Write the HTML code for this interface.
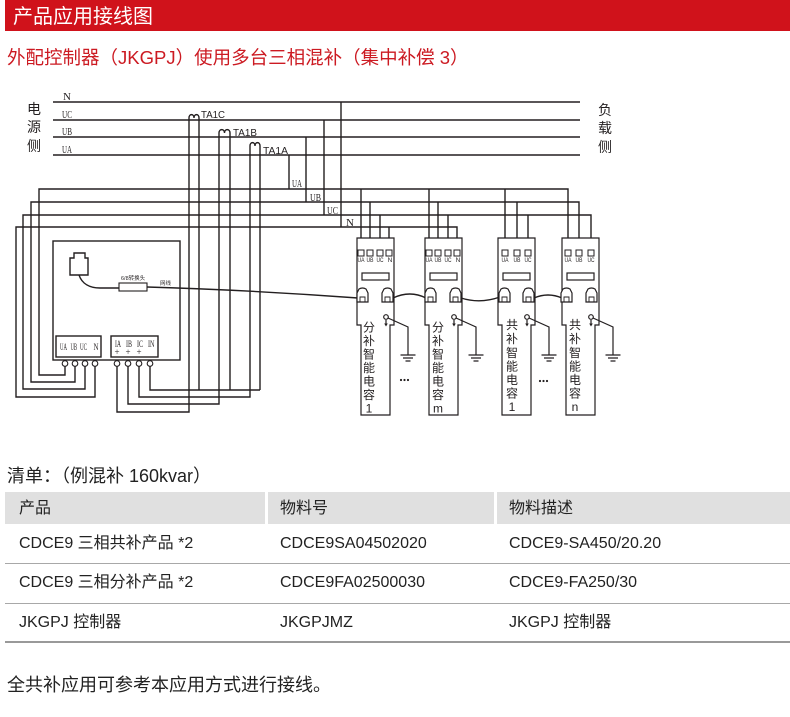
<!DOCTYPE html>
<html><head><meta charset="utf-8">
<style>
html,body{margin:0;padding:0;background:#fff;}
body{width:790px;height:717px;position:relative;overflow:hidden;font-family:"Liberation Sans","Noto Sans CJK SC",sans-serif;color:#222;}
.a{position:absolute;white-space:nowrap;line-height:1;}
.bg{position:absolute;background:#e0e0e0;}
.ln{position:absolute;left:5px;width:785px;background:#a8a8a8;}
</style></head><body>
<div style="position:absolute;left:5px;top:0;width:785px;height:31px;background:#d0121b"></div>
<div class="a" style="left:13px;top:7px;font-size:20px;color:#fff">产品应用接线图</div>
<div class="a" style="left:7px;top:49px;font-size:18.5px;color:#cc1a22">外配控制器（JKGPJ）使用多台三相混补（集中补偿 3）</div>

<svg width="790" height="717" viewBox="0 0 790 717" style="position:absolute;left:0;top:0">
<g stroke="#231f20" stroke-width="1.4" fill="none">
<path d="M53,102H580M53,120H580M53,137H580M53,155H580"/>
<path d="M289,155V189M306,137V202M324,120V215M341,102V227"/>
<path d="M65,366V375H39V189H568V251"/>
<path d="M75,366V382H31V202H579V251"/>
<path d="M85,366V389H23V215H591V251"/>
<path d="M95,366V397H16V227H457V251"/>
<path d="M361,189V251M370,202V251M380,215V251M389,227V251M429,189V251M438,202V251M448,215V251M505,189V251M517,202V251M528,215V251"/>
<path d="M117,366V412H189V118C189,113.5 194,113.5 194,118C194,113.5 199,113.5 199,118V390"/>
<path d="M128,366V404H219V133C219,128.5 224.5,128.5 224.5,133C224.5,128.5 230,128.5 230,133V390"/>
<path d="M139,366V397H250V146C250,141.5 255,141.5 255,146C255,141.5 260,141.5 260,146V390"/>
<path d="M150,366V390H260"/>
<rect x="53" y="241" width="127" height="119"/>
<rect x="56" y="336" width="45" height="21"/>
<rect x="111" y="336" width="47" height="21"/>
<path d="M70,275V258H74V253H85V258H88V275Z"/>
<path d="M79,275C82,284 90,288 100,288L119,288"/>
<path d="M147,287Q250,290 358,298"/>
<path d="M393,298Q410,290 426,298M461,298Q480,304 500,297M534,298Q548,292 562,298"/>
</g>
<g stroke="#231f20" stroke-width="1.1" fill="#fff">
<rect x="119" y="283" width="28" height="8"/>
<circle cx="65" cy="363.5" r="2.8"/><circle cx="75" cy="363.5" r="2.8"/><circle cx="85" cy="363.5" r="2.8"/><circle cx="95" cy="363.5" r="2.8"/>
<circle cx="117" cy="363.5" r="2.8"/><circle cx="128" cy="363.5" r="2.8"/><circle cx="139" cy="363.5" r="2.8"/><circle cx="150" cy="363.5" r="2.8"/>
</g>

<g stroke="#231f20" stroke-width="1.2" fill="#fff">
<path d="M357,238H394V325H390V415H361V325H357Z"/>
<path d="M425,238H462V325H458V415H429V325H425Z"/>
<path d="M498,238H535V325H531V415H502V325H498Z"/>
<path d="M562,238H599V325H595V415H566V325H562Z"/>
<rect x="362" y="273" width="27" height="7"/><rect x="430" y="273" width="27" height="7"/><rect x="503" y="273" width="27" height="7"/><rect x="567" y="273" width="27" height="7"/>
<g stroke-width="1">
<rect x="358" y="250" width="6" height="6"/><rect x="367" y="250" width="6" height="6"/><rect x="377" y="250" width="6" height="6"/><rect x="386" y="250" width="6" height="6"/>
<rect x="426" y="250" width="6" height="6"/><rect x="435" y="250" width="6" height="6"/><rect x="445" y="250" width="6" height="6"/><rect x="454" y="250" width="6" height="6"/>
<rect x="502" y="250" width="6" height="6"/><rect x="514" y="250" width="6" height="6"/><rect x="525" y="250" width="6" height="6"/>
<rect x="565" y="250" width="6" height="6"/><rect x="576" y="250" width="6" height="6"/><rect x="588" y="250" width="6" height="6"/>
</g>
<path d="M357,302V293L359,289Q362.5,287 366,289L368,293V302Z"/><path d="M382,302V293L384,289Q387.5,287 391,289L393,293V302Z"/>
<path d="M425,302V293L427,289Q430.5,287 434,289L436,293V302Z"/><path d="M450,302V293L452,289Q455.5,287 459,289L461,293V302Z"/>
<path d="M499,302V293L501,289Q504.5,287 508,289L510,293V302Z"/><path d="M523,302V293L525,289Q528.5,287 532,289L534,293V302Z"/>
<path d="M561,302V293L563,289Q566.5,287 570,289L572,293V302Z"/><path d="M586,302V293L588,289Q591.5,287 595,289L597,293V302Z"/>
</g>
<g stroke="#231f20" stroke-width="0.9" fill="none">
<path d="M360,302V297H365V302M385,302V297H390V302M428,302V297H433V302M453,302V297H458V302M502,302V297H507V302M526,302V297H531V302M564,302V297H569V302M589,302V297H594V302"/>
</g>
<g stroke="#231f20" stroke-width="1.2" fill="none">
<circle cx="386" cy="317" r="2.3" fill="#fff"/><path d="M388,318L408,327V355M400.5,355H415.5M403,358H413M405.5,361H410.5M386,320V325"/>
<circle cx="454" cy="317" r="2.3" fill="#fff"/><path d="M456,318L476,327V355M468.5,355H483.5M471,358H481M473.5,361H478.5M454,320V325"/>
<circle cx="527" cy="317" r="2.3" fill="#fff"/><path d="M529,318L549,327V355M541.5,355H556.5M544,358H554M546.5,361H551.5M527,320V325"/>
<circle cx="591" cy="317" r="2.3" fill="#fff"/><path d="M593,318L613,327V355M605.5,355H620.5M608,358H618M610.5,361H615.5M591,320V325"/>
</g>
<g fill="#231f20">
<path d="M384.2,323.5L386,326.5L387.8,323.5Z"/><path d="M452.2,323.5L454,326.5L455.8,323.5Z"/><path d="M525.2,323.5L527,326.5L528.8,323.5Z"/><path d="M589.2,323.5L591,326.5L592.8,323.5Z"/>
<circle cx="401" cy="380" r="1.1"/><circle cx="404.5" cy="380" r="1.1"/><circle cx="408" cy="380" r="1.1"/>
<circle cx="540" cy="381" r="1.1"/><circle cx="543.5" cy="381" r="1.1"/><circle cx="547" cy="381" r="1.1"/>
</g>

<g fill="#231f20" font-family="Liberation Sans, Noto Sans CJK SC, sans-serif">
<g font-size="14" text-anchor="middle">
<text x="34" y="114">电</text><text x="34" y="132">源</text><text x="34" y="151">侧</text>
<text x="605" y="115">负</text><text x="605" y="133">载</text><text x="605" y="152">侧</text>
</g>
<g font-size="10.5">
<text x="201" y="118" textLength="24" lengthAdjust="spacingAndGlyphs">TA1C</text>
<text x="233" y="136" textLength="24" lengthAdjust="spacingAndGlyphs">TA1B</text>
<text x="263" y="154" textLength="25" lengthAdjust="spacingAndGlyphs">TA1A</text>
</g>
<g font-size="12" text-anchor="middle">
<text x="369" y="331.5">分</text><text x="369" y="345">补</text><text x="369" y="358.5">智</text><text x="369" y="372">能</text><text x="369" y="385.5">电</text><text x="369" y="399">容</text><text x="369" y="412.5">1</text>
<text x="438" y="331.5">分</text><text x="438" y="345">补</text><text x="438" y="358.5">智</text><text x="438" y="372">能</text><text x="438" y="385.5">电</text><text x="438" y="399">容</text><text x="438" y="412.5">m</text>
<text x="512" y="329">共</text><text x="512" y="343">补</text><text x="512" y="357">智</text><text x="512" y="370.5">能</text><text x="512" y="384">电</text><text x="512" y="397.5">容</text><text x="512" y="411">1</text>
<text x="575" y="329">共</text><text x="575" y="343">补</text><text x="575" y="357">智</text><text x="575" y="370.5">能</text><text x="575" y="384">电</text><text x="575" y="397.5">容</text><text x="575" y="411">n</text>
</g>
<g font-size="6.5" text-anchor="middle">
<text x="361" y="262" textLength="7" lengthAdjust="spacingAndGlyphs">UA</text><text x="370" y="262" textLength="7" lengthAdjust="spacingAndGlyphs">UB</text><text x="380" y="262" textLength="7" lengthAdjust="spacingAndGlyphs">UC</text><text x="390" y="262">N</text>
<text x="429" y="262" textLength="7" lengthAdjust="spacingAndGlyphs">UA</text><text x="438" y="262" textLength="7" lengthAdjust="spacingAndGlyphs">UB</text><text x="448" y="262" textLength="7" lengthAdjust="spacingAndGlyphs">UC</text><text x="458" y="262">N</text>
<text x="505" y="262" textLength="7" lengthAdjust="spacingAndGlyphs">UA</text><text x="517" y="262" textLength="7" lengthAdjust="spacingAndGlyphs">UB</text><text x="528" y="262" textLength="7" lengthAdjust="spacingAndGlyphs">UC</text>
<text x="568" y="262" textLength="7" lengthAdjust="spacingAndGlyphs">UA</text><text x="579" y="262" textLength="7" lengthAdjust="spacingAndGlyphs">UB</text><text x="591" y="262" textLength="7" lengthAdjust="spacingAndGlyphs">UC</text>
</g>
<g font-size="5.5">
<text x="121" y="280">6/8转换头</text>
<text x="160" y="285">网线</text>
</g>
</g>
<g fill="#231f20" font-family="Liberation Serif, serif">
<g font-size="11">
<text x="63" y="100">N</text>
<text x="62" y="118" textLength="10" lengthAdjust="spacingAndGlyphs">UC</text>
<text x="62" y="135" textLength="10" lengthAdjust="spacingAndGlyphs">UB</text>
<text x="62" y="153" textLength="10" lengthAdjust="spacingAndGlyphs">UA</text>
<text x="292" y="187" textLength="10" lengthAdjust="spacingAndGlyphs">UA</text>
<text x="310" y="201" textLength="11" lengthAdjust="spacingAndGlyphs">UB</text>
<text x="327" y="214" textLength="11" lengthAdjust="spacingAndGlyphs">UC</text>
<text x="346" y="226">N</text>
</g>
<g font-size="9.5">
<text x="60" y="350" textLength="7" lengthAdjust="spacingAndGlyphs">UA</text>
<text x="70.5" y="350" textLength="6.5" lengthAdjust="spacingAndGlyphs">UB</text>
<text x="80" y="350" textLength="7" lengthAdjust="spacingAndGlyphs">UC</text>
<text x="93.5" y="350" textLength="5" lengthAdjust="spacingAndGlyphs">N</text>
<text x="115" y="347" textLength="6" lengthAdjust="spacingAndGlyphs">IA</text>
<text x="126" y="347" textLength="6" lengthAdjust="spacingAndGlyphs">IB</text>
<text x="137" y="347" textLength="6" lengthAdjust="spacingAndGlyphs">IC</text>
<text x="148" y="347" textLength="6.5" lengthAdjust="spacingAndGlyphs">IN</text>
</g>
<g font-size="9" text-anchor="middle">
<text x="117" y="355">+</text><text x="128" y="355">+</text><text x="139" y="355">+</text>
</g>
</g>
</svg>

<div class="a" style="left:7px;top:467px;font-size:18px;color:#222">清单：（例混补 160kvar）</div>
<div class="bg" style="left:5px;top:492px;width:260px;height:32px"></div>
<div class="bg" style="left:268px;top:492px;width:226px;height:32px"></div>
<div class="bg" style="left:497px;top:492px;width:293px;height:32px"></div>
<div class="a" style="left:19px;top:501px;font-size:16px">产品</div>
<div class="a" style="left:280px;top:501px;font-size:16px">物料号</div>
<div class="a" style="left:509px;top:501px;font-size:16px">物料描述</div>

<div class="a" style="left:19px;top:536px;font-size:16px">CDCE9 三相共补产品 *2</div>
<div class="a" style="left:280px;top:536px;font-size:16px">CDCE9SA04502020</div>
<div class="a" style="left:509px;top:536px;font-size:16px">CDCE9-SA450/20.20</div>
<div class="ln" style="top:563px;height:1px"></div>

<div class="a" style="left:19px;top:575px;font-size:16px">CDCE9 三相分补产品 *2</div>
<div class="a" style="left:280px;top:575px;font-size:16px">CDCE9FA02500030</div>
<div class="a" style="left:509px;top:575px;font-size:16px">CDCE9-FA250/30</div>
<div class="ln" style="top:603px;height:1px"></div>

<div class="a" style="left:19px;top:615px;font-size:16px">JKGPJ 控制器</div>
<div class="a" style="left:280px;top:615px;font-size:16px">JKGPJMZ</div>
<div class="a" style="left:509px;top:615px;font-size:16px">JKGPJ 控制器</div>
<div class="ln" style="top:641px;height:2px;background:#999"></div>

<div class="a" style="left:7px;top:676px;font-size:18px;color:#222">全共补应用可参考本应用方式进行接线。</div>
</body></html>
